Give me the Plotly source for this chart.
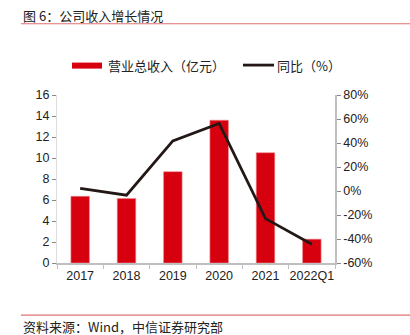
import plotly.graph_objects as go

# Revenue and YoY growth
categories = ["2017", "2018", "2019", "2020", "2021", "2022Q1"]
revenue = [6.35, 6.15, 8.7, 13.6, 10.5, 2.27]      # 亿元
yoy_growth = [2.1, -3.5, 41.8, 56.3, -23.0, -44.4]  # %

left_ticks = [0, 2, 4, 6, 8, 10, 12, 14, 16]
right_ticks = [-60, -40, -20, 0, 20, 40, 60, 80]

RED = "#D7000F"
DARK = "#231815"
AXIS = "#BFBFBF"
FONT = "Liberation Sans, Arial, Noto Sans CJK SC, sans-serif"
CJK = "Noto Sans CJK SC, sans-serif"

W, H = 410, 335
L, R, T, B = 57, 335, 95.3, 262.7

fig = go.Figure()
fig.add_trace(go.Bar(
    x=categories, y=revenue, name="营业总收入（亿元）",
    marker=dict(color=RED, line=dict(color="#F08A90", width=0.6)),
    width=0.4, yaxis="y", showlegend=False,
))
fig.add_trace(go.Scatter(
    x=categories, y=yoy_growth, name="同比（%）", mode="lines",
    line=dict(color=DARK, width=2.8), yaxis="y2", showlegend=False,
))


def px(x):
    return (x - L) / (R - L)


def py(y):
    return (B - y) / (B - T)


shapes = [
    # title underline
    dict(type="line", xref="paper", yref="paper", x0=px(21), x1=px(410),
         y0=py(24.3), y1=py(24.3), line=dict(color="#E07070", width=1.2)),
    # footer rule
    dict(type="line", xref="paper", yref="paper", x0=px(21), x1=px(410),
         y0=py(314.7), y1=py(314.7), line=dict(color="#E07070", width=1.2)),
    # legend swatches
    dict(type="rect", xref="paper", yref="paper", x0=px(72), x1=px(102),
         y0=py(69), y1=py(63), fillcolor=RED, line=dict(width=0)),
    dict(type="line", xref="paper", yref="paper", x0=px(243), x1=px(274),
         y0=py(65.5), y1=py(65.5), line=dict(color=DARK, width=2.8)),
]

annotations = [
    dict(text="图 6：公司收入增长情况", xref="paper", yref="paper",
         x=px(21), y=py(16), xanchor="left", yanchor="middle", showarrow=False,
         font=dict(family=CJK, size=13, color="#222222")),
    dict(text="资料来源：Wind，中信证券研究部", xref="paper", yref="paper",
         x=px(21), y=py(325.5), xanchor="left", yanchor="middle", showarrow=False,
         font=dict(family=CJK, size=13, color="#222222")),
    dict(text="营业总收入（亿元）", xref="paper", yref="paper",
         x=px(105.5), y=py(66), xanchor="left", yanchor="middle", showarrow=False,
         font=dict(family=CJK, size=13, color="#222222")),
    dict(text="同比（%）", xref="paper", yref="paper",
         x=px(274.5), y=py(66), xanchor="left", yanchor="middle", showarrow=False,
         font=dict(family=CJK, size=13, color="#222222")),
]

fig.update_layout(
    width=W, height=H,
    margin=dict(l=L, r=W - R, t=T, b=H - B),
    paper_bgcolor="white", plot_bgcolor="white",
    font=dict(family=FONT, size=12, color="#222222"),
    bargap=0.6,
    xaxis=dict(
        showline=True, linecolor=AXIS, linewidth=1.5,
        ticks="outside", tickson="boundaries", ticklen=4, tickcolor=AXIS,
        showgrid=False, tickfont=dict(size=12.5), tickangle=0,
    ),
    yaxis=dict(
        range=[0, 16], tickvals=left_ticks, showgrid=False, zeroline=False,
        showline=True, linecolor="#DDDDDD", linewidth=1,
        ticks="outside", ticklen=4, tickcolor="#888888",
        tickfont=dict(size=12.5),
    ),
    yaxis2=dict(
        range=[-60, 80], tickvals=right_ticks,
        ticktext=[f"{v}%" for v in right_ticks],
        overlaying="y", side="right", showgrid=False, zeroline=False,
        showline=True, linecolor=AXIS, linewidth=1.5,
        ticks="outside", ticklen=4, tickcolor="#888888",
        tickfont=dict(size=12.5),
    ),
    shapes=shapes,
    annotations=annotations,
    showlegend=False,
)

fig.write_html("out.html")
